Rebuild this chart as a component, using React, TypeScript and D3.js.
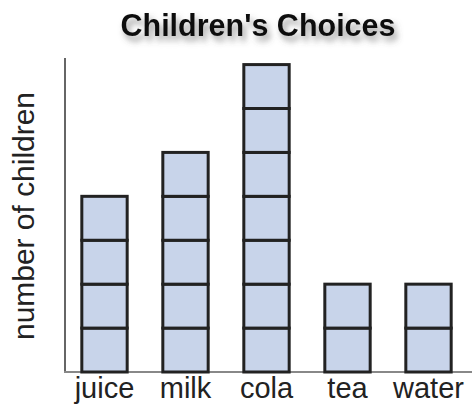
import React from 'react';
import * as d3 from 'd3';

const drinks = ['juice', 'milk', 'cola', 'tea', 'water'];
const children = [4, 5, 7, 2, 2];
const yTop = 7.15; // a bit of axis above the tallest bar

const W = 472;
const H = 411;
const FONT = '"Liberation Sans", Arial, sans-serif';

export default function App() {
  const x = d3.scaleBand<string>().domain(drinks).range([64, 469]).paddingInner(0.44).paddingOuter(0.22);
  const y = d3.scaleLinear().domain([0, yTop]).range([372, 58]);

  // every child is one box in the stack
  const cells = drinks.flatMap((name, i) =>
    d3.range(children[i]).map((k) => ({ name, k }))
  );

  return (
    <svg width={W} height={H} style={{ position: 'absolute', left: 0, top: 0, background: '#fff' }}>
      <defs>
        <filter id="shadow" x="-10%" y="-30%" width="130%" height="190%">
          <feDropShadow dx="3" dy="5" stdDeviation="3" floodColor="#555" floodOpacity="0.6" />
        </filter>
      </defs>

      <text x={258} y={36} textAnchor="middle" fontFamily={FONT} fontWeight="bold" fontSize={30.5}
        fill="#111" filter="url(#shadow)">Children's Choices</text>

      <text transform={`translate(34,216) rotate(-90)`} textAnchor="middle" fontFamily={FONT}
        fontSize={29} textLength={248} lengthAdjust="spacingAndGlyphs" fill="#222">number of children</text>

      {/* axes */}
      <line x1={65} x2={65} y1={y(yTop)} y2={y(0)} stroke="#666" strokeWidth={2} />
      <line x1={64} x2={W} y1={y(0)} y2={y(0)} stroke="#888" strokeWidth={2} />

      {cells.map((c, i) => (
        <rect key={i} x={x(c.name)} y={y(c.k + 1)} width={x.bandwidth()}
          height={y(c.k) - y(c.k + 1)} fill="#c8d4ea" stroke="#222" strokeWidth={3} />
      ))}

      {drinks.map((d) => (
        <text key={d} x={(x(d) as number) + x.bandwidth() / 2} y={398} textAnchor="middle"
          fontFamily={FONT} fontSize={29} fill="#222">{d}</text>
      ))}
    </svg>
  );
}
